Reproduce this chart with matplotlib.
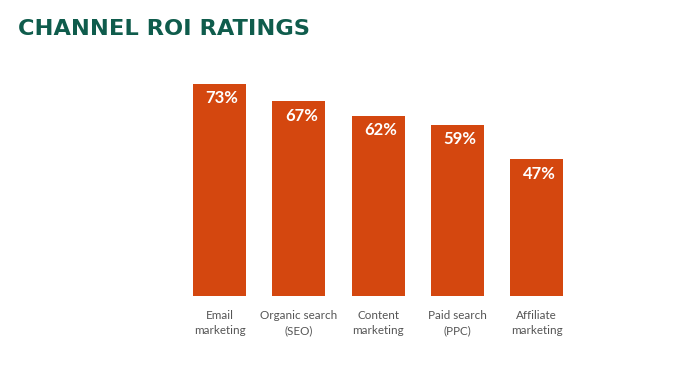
import matplotlib.pyplot as plt

# data
channels = ['Email\nmarketing', 'Organic search\n(SEO)', 'Content\nmarketing',
            'Paid search\n(PPC)', 'Affiliate\nmarketing']
roi = [73, 67, 62, 59, 47]

bar_color = '#d4470f'
title_color = '#0f5c4c'

fig = plt.figure(figsize=(6.95, 3.66), dpi=100)
ax = fig.add_axes([0.2588, 0.1913, 0.5705, 0.5792])

x = range(len(roi))
bars = ax.bar(x, roi, width=0.67, color=bar_color)

for b, v in zip(bars, roi):
    ax.text(b.get_x() + b.get_width() / 2 + 0.03, v - 2.2, f'{v}%', ha='center', va='top',
            color='white', fontsize=12, fontweight='bold', family='Lato')

ax.set_xlim(-0.5, 4.5)
ax.set_ylim(0, 73)
ax.set_xticks(list(x))
ax.set_xticklabels(channels, family='Lato', fontsize=8.4, color='#555555', linespacing=1.45)
ax.tick_params(axis='x', length=0, pad=10)
ax.set_yticks([])
for s in ax.spines.values():
    s.set_visible(False)

fig.text(0.026, 0.92, 'CHANNEL ROI RATINGS', family='DejaVu Sans', fontweight='bold',
         fontsize=16.2, color=title_color, va='center', ha='left')

fig.savefig('out.png', dpi=100)
